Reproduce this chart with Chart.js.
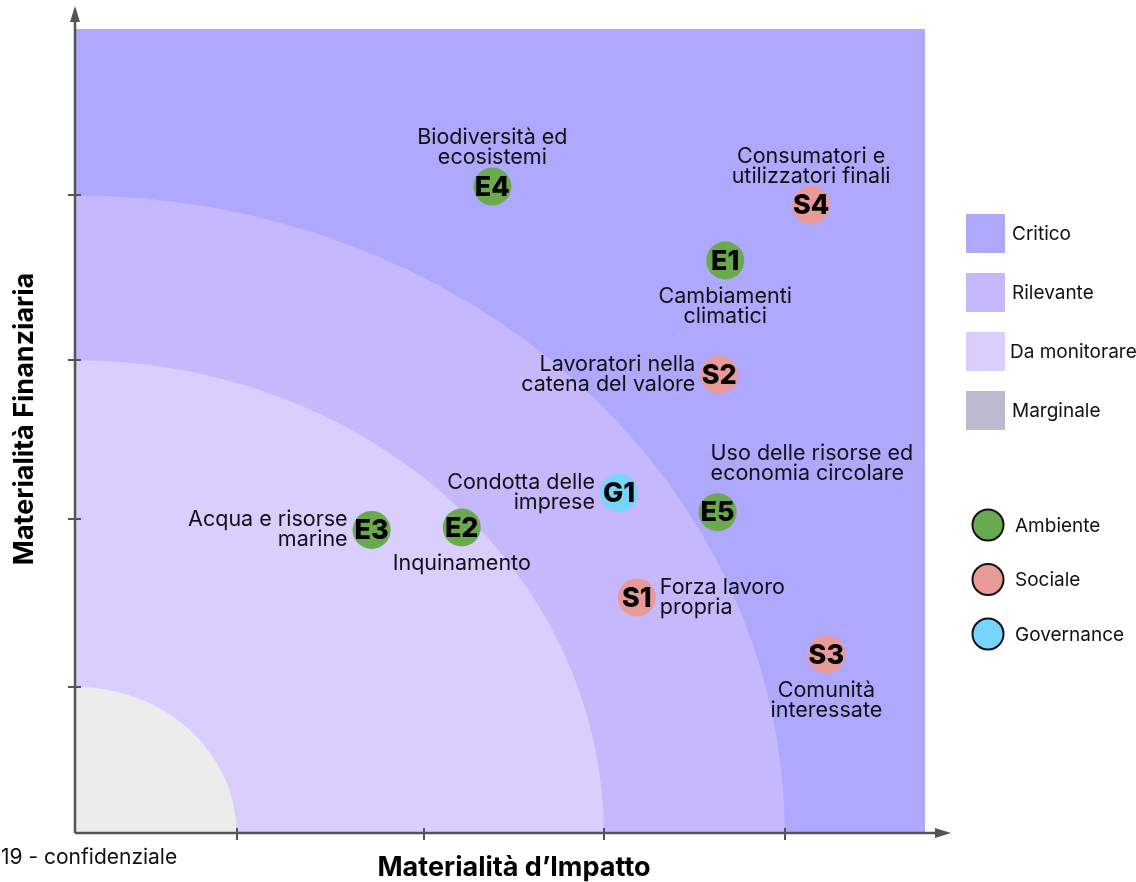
<!DOCTYPE html>
<html>
<head>
<meta charset="utf-8">
<script src="https://cdn.jsdelivr.net/npm/chart.js@4.4.0/dist/chart.umd.min.js"></script>
<style>
  body { margin: 0; background: #fff; }
  #wrap { width: 1136px; height: 882px; }
</style>
</head>
<body>
<div id="wrap"><canvas id="matrix" width="1136" height="882"></canvas></div>
<script>
// topics of the double materiality matrix
var codes = ['E1', 'E2', 'E3', 'E4', 'E5', 'S1', 'S2', 'S3', 'S4', 'G1'];
var topics = [
  ['Cambiamenti', 'climatici'],
  ['Inquinamento'],
  ['Acqua e risorse', 'marine'],
  ['Biodiversità ed', 'ecosistemi'],
  ['Uso delle risorse ed', 'economia circolare'],
  ['Forza lavoro', 'propria'],
  ['Lavoratori nella', 'catena del valore'],
  ['Comunità', 'interessate'],
  ['Consumatori e', 'utilizzatori finali'],
  ['Condotta delle', 'imprese']
];
var groups = ['Ambiente', 'Ambiente', 'Ambiente', 'Ambiente', 'Ambiente',
  'Sociale', 'Sociale', 'Sociale', 'Sociale', 'Governance'];
var impact = [76.5, 45.5, 34.9, 49.1, 75.6, 66.1, 75.8, 88.4, 86.6, 64.0];
var financial = [71.2, 38.0, 37.7, 80.4, 39.9, 29.3, 57.0, 22.2, 78.1, 42.3];
var labelSide = ['bottom', 'bottom', 'left', 'top', 'topright', 'right', 'left', 'bottom', 'top', 'left'];

// zones (radius on each axis) and ticks
var zoneNames = ['Critico', 'Rilevante', 'Da monitorare', 'Marginale'];
var zoneX = [100, 83.5, 62.2, 19];
var zoneY = [100, 79.3, 58.8, 18.2];
var xTicks = [19, 41, 62.2, 83.5];
var yTicks = [18.2, 39, 58.8, 79.3];

var groupNames = ['Ambiente', 'Sociale', 'Governance'];
var groupColors = ['#6aaa4f', '#e89a98', '#76d5fd'];
var zoneColors = ['#aea8fe', '#c6b8fc', '#d9cefe', '#ececec'];
var zoneLegendColors = ['#aea8fe', '#c6b8fc', '#d9cefe', '#bcb9d0'];

var FONT = 'Inter, "Noto Sans", sans-serif';
var AXIS = '#555555';

var datasets = groupNames.map(function (g, gi) {
  var pts = [];
  codes.forEach(function (c, i) {
    if (groups[i] === g) pts.push({ x: impact[i], y: financial[i], idx: i });
  });
  return {
    label: g,
    data: pts,
    backgroundColor: groupColors[gi],
    borderWidth: 0,
    pointRadius: 19,
    pointHoverRadius: 19
  };
});

var matrixPlugin = {
  id: 'matrix',
  beforeDatasetsDraw: function (chart) {
    var ctx = chart.ctx, a = chart.chartArea;
    var xs = chart.scales.x, ys = chart.scales.y;
    ctx.save();
    ctx.beginPath();
    ctx.rect(a.left, a.top, a.right - a.left, a.bottom - a.top);
    ctx.clip();
    zoneNames.forEach(function (z, i) {
      ctx.fillStyle = zoneColors[i];
      if (i === 0) {
        ctx.fillRect(a.left, a.top, a.right - a.left, a.bottom - a.top);
        return;
      }
      var rx = xs.getPixelForValue(zoneX[i]) - a.left;
      var ry = a.bottom - ys.getPixelForValue(zoneY[i]);
      ctx.beginPath();
      ctx.moveTo(a.left, a.bottom);
      ctx.ellipse(a.left, a.bottom, rx, ry, 0, -Math.PI / 2, 0);
      ctx.closePath();
      ctx.fill();
    });
    ctx.restore();
  },
  afterDatasetsDraw: function (chart) {
    var ctx = chart.ctx;
    ctx.save();
    chart.data.datasets.forEach(function (ds, di) {
      var meta = chart.getDatasetMeta(di);
      meta.data.forEach(function (el, j) {
        var i = ds.data[j].idx;
        var px = el.x, py = el.y;
        ctx.fillStyle = '#000';
        ctx.font = '800 27px ' + FONT;
        ctx.textAlign = 'center';
        ctx.textBaseline = 'middle';
        ctx.fillText(codes[i], px, py + 1);

        var lines = topics[i];
        var lh = 20;
        ctx.font = '21.5px ' + FONT;
        ctx.fillStyle = '#111';
        var side = labelSide[i];
        var x0, y0;
        if (side === 'top') {
          ctx.textAlign = 'center';
          x0 = px; y0 = py - 29 - (lines.length - 1) * lh;
        } else if (side === 'topright') {
          ctx.textAlign = 'left';
          x0 = px - 7; y0 = py - 39 - (lines.length - 1) * lh;
        } else if (side === 'bottom') {
          ctx.textAlign = 'center';
          x0 = px; y0 = py + 36;
        } else if (side === 'left') {
          ctx.textAlign = 'right';
          x0 = px - 24; y0 = py - (lines.length - 1) * lh / 2;
        } else {
          ctx.textAlign = 'left';
          x0 = px + 23; y0 = py - (lines.length - 1) * lh / 2;
        }
        lines.forEach(function (t, k) { ctx.fillText(t, x0, y0 + k * lh); });
      });
    });
    ctx.restore();
  },
  afterDraw: function (chart) {
    var ctx = chart.ctx, a = chart.chartArea;
    var xs = chart.scales.x, ys = chart.scales.y;
    ctx.save();
    // axes
    ctx.strokeStyle = AXIS;
    ctx.fillStyle = AXIS;
    ctx.lineWidth = 2.5;
    ctx.beginPath();
    ctx.moveTo(a.left, a.bottom);
    ctx.lineTo(a.left, 20);
    ctx.moveTo(a.left, a.bottom);
    ctx.lineTo(937, a.bottom);
    ctx.stroke();
    ctx.beginPath();
    ctx.moveTo(a.left, 6);
    ctx.lineTo(a.left - 5, 22);
    ctx.lineTo(a.left + 5, 22);
    ctx.closePath();
    ctx.fill();
    ctx.beginPath();
    ctx.moveTo(951, a.bottom);
    ctx.lineTo(935, a.bottom - 5);
    ctx.lineTo(935, a.bottom + 5);
    ctx.closePath();
    ctx.fill();
    // ticks
    ctx.lineWidth = 2;
    ctx.beginPath();
    xTicks.forEach(function (v) {
      var x = Math.round(xs.getPixelForValue(v));
      ctx.moveTo(x, a.bottom - 5);
      ctx.lineTo(x, a.bottom + 7);
    });
    yTicks.forEach(function (v) {
      var y = Math.round(ys.getPixelForValue(v));
      ctx.moveTo(a.left - 7, y);
      ctx.lineTo(a.left + 6, y);
    });
    ctx.stroke();

    // axis titles
    ctx.fillStyle = '#000';
    ctx.font = 'bold 27px ' + FONT;
    ctx.textAlign = 'center';
    ctx.textBaseline = 'middle';
    ctx.fillText('Materialità d’Impatto', 514, 868);
    ctx.save();
    ctx.translate(25, 419);
    ctx.rotate(-Math.PI / 2);
    ctx.fillText('Materialità Finanziaria', 0, 0);
    ctx.restore();

    // footer
    ctx.font = '21px ' + FONT;
    ctx.textAlign = 'left';
    ctx.fillStyle = '#111';
    ctx.fillText('19 - confidenziale', 1, 858);

    // legend: zones
    ctx.font = '19px ' + FONT;
    zoneNames.forEach(function (z, i) {
      var y = 214 + i * 59;
      ctx.fillStyle = zoneLegendColors[i];
      ctx.fillRect(966, y, 39, 39);
      ctx.fillStyle = '#111';
      ctx.fillText(z, i === 2 ? 1010 : 1012, y + 20);
    });
    // legend: groups
    groupNames.forEach(function (g, i) {
      var y = 525 + i * 54.5;
      ctx.beginPath();
      ctx.arc(988, y, 15.5, 0, Math.PI * 2);
      ctx.fillStyle = groupColors[i];
      ctx.fill();
      ctx.lineWidth = 2;
      ctx.strokeStyle = '#111';
      ctx.stroke();
      ctx.fillStyle = '#111';
      ctx.fillText(g, 1015, y + 1);
    });
    ctx.restore();
  }
};

var ctx = document.getElementById('matrix').getContext('2d');
var matrixChart = new Chart(ctx, {
  type: 'scatter',
  data: { datasets: datasets },
  options: {
    responsive: false,
    animation: false,
    events: [],
    layout: { padding: { left: 75, top: 29, right: 211, bottom: 49 } },
    scales: {
      x: { type: 'linear', min: 0, max: 100, display: false },
      y: { type: 'linear', min: 0, max: 100, display: false }
    },
    plugins: {
      legend: { display: false },
      tooltip: { enabled: false }
    }
  },
  plugins: [matrixPlugin]
});
</script>
</body>
</html>
